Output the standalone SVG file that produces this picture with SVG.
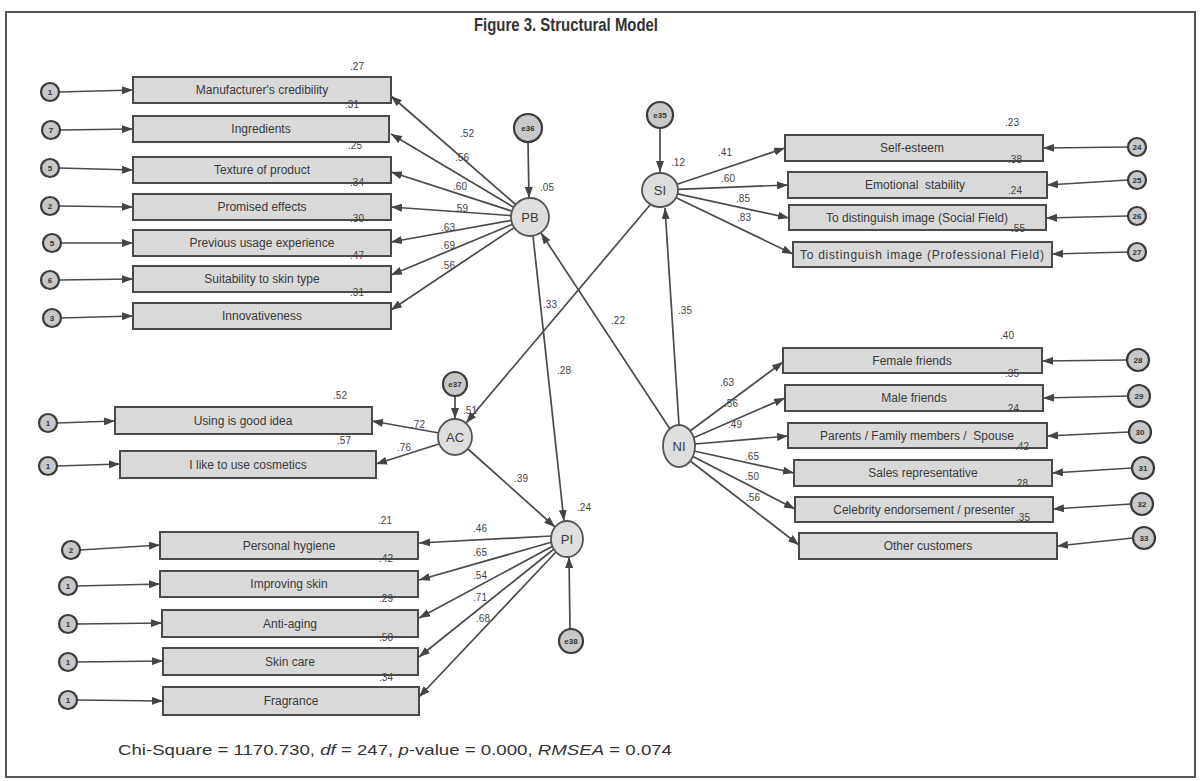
<svg xmlns="http://www.w3.org/2000/svg" width="1203" height="781" viewBox="0 0 1203 781">
<style>
.bx{fill:#d9d9d9;stroke:#4a4a4a;stroke-width:2}
.lv{fill:#dedede;stroke:#555;stroke-width:1.8}
.er{fill:#c8c8c8;stroke:#3a3a3a;stroke-width:2.2}
.bt{font-family:"Liberation Sans",Arial,sans-serif;font-size:12px;fill:#3a3a3a;text-anchor:middle}
.lt{font-family:"Liberation Sans",Arial,sans-serif;font-size:13px;fill:#3a3a3a;text-anchor:middle}
.et{font-family:"Liberation Sans",Arial,sans-serif;font-size:8px;fill:#333;text-anchor:middle;font-weight:bold}
.nm{font-family:"Liberation Sans",Arial,sans-serif;font-size:10px;fill:#444;text-anchor:middle}
.cn line{stroke:#4a4a4a;stroke-width:1.7;marker-end:url(#ah)}
</style>
<defs>
<marker id="ah" markerUnits="userSpaceOnUse" markerWidth="11" markerHeight="8" refX="11" refY="4" orient="auto">
<path d="M0,0 L11,4 L0,8 z" fill="#444"/>
</marker>
</defs>
<rect x="0" y="0" width="1203" height="781" fill="#fff"/>
<rect x="6" y="12" width="1189" height="765" fill="none" stroke="#555" stroke-width="2"/>
<text x="566" y="31" font-family="'Liberation Sans',Arial,sans-serif" font-size="19" font-weight="bold" fill="#333" text-anchor="middle" textLength="184" lengthAdjust="spacingAndGlyphs">Figure 3. Structural Model</text>
<text x="118" y="755" font-family="'Liberation Sans',Arial,sans-serif" font-size="15" fill="#333" textLength="554" lengthAdjust="spacingAndGlyphs">Chi-Square = 1170.730, <tspan font-style="italic">df</tspan> = 247, <tspan font-style="italic">p</tspan>-value = 0.000, <tspan font-style="italic">RMSEA</tspan> = 0.074</text>

<g id="connectors" class="cn">
<line x1="515.7" y1="204.5" x2="391" y2="96"/>
<line x1="513.7" y1="207.3" x2="391" y2="134"/>
<line x1="511.9" y1="211.1" x2="391" y2="172"/>
<line x1="511.1" y1="215.6" x2="391" y2="207"/>
<line x1="511.3" y1="220.4" x2="391" y2="242"/>
<line x1="512.5" y1="224.3" x2="391" y2="275"/>
<line x1="514.2" y1="227.6" x2="391" y2="310"/>
<line x1="59" y1="92" x2="133" y2="90"/>
<line x1="60" y1="130" x2="133" y2="129"/>
<line x1="59" y1="168" x2="133" y2="170"/>
<line x1="59" y1="206" x2="133" y2="207"/>
<line x1="61" y1="243" x2="133" y2="243"/>
<line x1="59" y1="280" x2="133" y2="279"/>
<line x1="61" y1="318" x2="133" y2="316"/>
<line x1="528" y1="142" x2="529" y2="198"/>
<line x1="677.1" y1="184.3" x2="785" y2="148"/>
<line x1="678" y1="189.3" x2="788" y2="185"/>
<line x1="677.6" y1="193.8" x2="789" y2="218"/>
<line x1="676.2" y1="197.8" x2="793" y2="254"/>
<line x1="1128" y1="147" x2="1043" y2="148"/>
<line x1="1128" y1="180" x2="1047" y2="185"/>
<line x1="1128" y1="216" x2="1046" y2="218"/>
<line x1="1128" y1="252" x2="1052" y2="254"/>
<line x1="660" y1="128" x2="660" y2="172"/>
<line x1="690" y1="431" x2="783" y2="362"/>
<line x1="693" y1="438" x2="785" y2="398"/>
<line x1="695" y1="444" x2="788" y2="436"/>
<line x1="694" y1="451" x2="794" y2="473"/>
<line x1="692" y1="456" x2="795" y2="509"/>
<line x1="689" y1="460" x2="799" y2="545"/>
<line x1="1127" y1="360" x2="1042" y2="361"/>
<line x1="1128" y1="396" x2="1043" y2="398"/>
<line x1="1129" y1="432" x2="1047" y2="436"/>
<line x1="1132" y1="468" x2="1052" y2="473"/>
<line x1="1131" y1="504" x2="1053" y2="509"/>
<line x1="1133" y1="538" x2="1057" y2="546"/>
<line x1="439" y1="433" x2="372" y2="421"/>
<line x1="439" y1="444" x2="376" y2="464"/>
<line x1="57" y1="423" x2="115" y2="421"/>
<line x1="57" y1="466" x2="120" y2="464"/>
<line x1="455" y1="396" x2="455" y2="419"/>
<line x1="551" y1="536" x2="419" y2="543"/>
<line x1="552" y1="542" x2="419" y2="580"/>
<line x1="553" y1="546" x2="419" y2="618"/>
<line x1="554" y1="549" x2="419" y2="657"/>
<line x1="556" y1="552" x2="419" y2="697"/>
<line x1="80" y1="550" x2="160" y2="545"/>
<line x1="77" y1="586" x2="160" y2="584"/>
<line x1="77" y1="624" x2="162" y2="623"/>
<line x1="77" y1="662" x2="163" y2="661"/>
<line x1="77" y1="700" x2="163" y2="701"/>
<line x1="570" y1="629" x2="569" y2="557"/>
<line x1="533" y1="236" x2="564" y2="521"/>
<line x1="468" y1="449" x2="555" y2="527"/>
<line x1="650" y1="205" x2="466" y2="423"/>
<line x1="670" y1="429" x2="541" y2="233"/>
<line x1="679" y1="425" x2="665" y2="208"/>
</g>

<g id="PB">
<ellipse class="lv" cx="530" cy="217" rx="19" ry="19"/>
<text class="lt" x="530" y="222">PB</text>
<text class="nm" x="547" y="191">.05</text>
</g>
<g id="e36"><circle class="er" cx="528" cy="128" r="14"/><text class="et" x="528" y="131">e36</text></g>
<g id="pb1"><rect class="bx" x="133" y="77" width="258" height="26"/><text class="bt" x="262" y="94">Manufacturer's credibility</text><text class="nm" x="357" y="70">.27</text></g>
<g id="pb2"><rect class="bx" x="133" y="116" width="256" height="26"/><text class="bt" x="261" y="133">Ingredients</text><text class="nm" x="352" y="108">.31</text></g>
<g id="pb3"><rect class="bx" x="133" y="157" width="258" height="26"/><text class="bt" x="262" y="174">Texture of product</text><text class="nm" x="355" y="149">.25</text></g>
<g id="pb4"><rect class="bx" x="133" y="194" width="258" height="26"/><text class="bt" x="262" y="211">Promised effects</text><text class="nm" x="357" y="186">.34</text></g>
<g id="pb5"><rect class="bx" x="133" y="230" width="258" height="26"/><text class="bt" x="262" y="247">Previous usage experience</text><text class="nm" x="357" y="222">.30</text></g>
<g id="pb6"><rect class="bx" x="133" y="266" width="258" height="26"/><text class="bt" x="262" y="283">Suitability to skin type</text><text class="nm" x="357" y="259">.47</text></g>
<g id="pb7"><rect class="bx" x="133" y="303" width="258" height="26"/><text class="bt" x="262" y="320">Innovativeness</text><text class="nm" x="357" y="296">.31</text></g>
<g id="pbe">
<circle class="er" cx="50" cy="92" r="9"/><text class="et" x="50" y="95">1</text>
<circle class="er" cx="51" cy="130" r="9"/><text class="et" x="51" y="133">7</text>
<circle class="er" cx="50" cy="168" r="9"/><text class="et" x="50" y="171">5</text>
<circle class="er" cx="50" cy="206" r="9"/><text class="et" x="50" y="209">2</text>
<circle class="er" cx="52" cy="243" r="9"/><text class="et" x="52" y="246">5</text>
<circle class="er" cx="50" cy="280" r="9"/><text class="et" x="50" y="283">6</text>
<circle class="er" cx="52" cy="318" r="9"/><text class="et" x="52" y="321">3</text>
</g>
<g id="pbl">
<text class="nm" x="467" y="137">.52</text>
<text class="nm" x="462" y="161">.56</text>
<text class="nm" x="460" y="190">.60</text>
<text class="nm" x="461" y="212">.59</text>
<text class="nm" x="448" y="231">.63</text>
<text class="nm" x="448" y="249">.69</text>
<text class="nm" x="448" y="269">.56</text>
</g>

<g id="SI">
<ellipse class="lv" cx="660" cy="190" rx="18" ry="17"/>
<text class="lt" x="660" y="195">SI</text>
<text class="nm" x="678" y="166">.12</text>
</g>
<g id="e35"><circle class="er" cx="660" cy="115" r="13"/><text class="et" x="660" y="118">e35</text></g>
<g id="si1"><rect class="bx" x="785" y="135" width="258" height="26"/><text class="bt" x="912" y="152">Self-esteem</text><text class="nm" x="1012" y="126">.23</text></g>
<g id="si2"><rect class="bx" x="788" y="172" width="259" height="26"/><text class="bt" x="915" y="189" xml:space="preserve">Emotional  stability</text><text class="nm" x="1015" y="163">.38</text></g>
<g id="si3"><rect class="bx" x="789" y="205" width="257" height="25"/><text class="bt" x="917" y="222">To distinguish image (Social Field)</text><text class="nm" x="1015" y="194">.24</text></g>
<g id="si4"><rect class="bx" x="793" y="242" width="259" height="25"/><text class="bt" x="922" y="259" textLength="244" lengthAdjust="spacing">To distinguish image (Professional Field)</text><text class="nm" x="1018" y="232">.55</text></g>
<g id="sie">
<circle class="er" cx="1137" cy="147" r="9"/><text class="et" x="1137" y="150">24</text>
<circle class="er" cx="1137" cy="180" r="9"/><text class="et" x="1137" y="183">25</text>
<circle class="er" cx="1137" cy="216" r="9"/><text class="et" x="1137" y="219">26</text>
<circle class="er" cx="1137" cy="252" r="9"/><text class="et" x="1137" y="255">27</text>
</g>
<g id="sil">
<text class="nm" x="725" y="156">.41</text>
<text class="nm" x="728" y="182">.60</text>
<text class="nm" x="743" y="202">.85</text>
<text class="nm" x="744" y="221">.83</text>
</g>

<g id="NI">
<ellipse class="lv" cx="679" cy="446" rx="16" ry="21"/>
<text class="lt" x="679" y="451">NI</text>
</g>
<g id="ni1"><rect class="bx" x="783" y="348" width="259" height="25"/><text class="bt" x="912" y="365">Female friends</text><text class="nm" x="1007" y="339">.40</text></g>
<g id="ni2"><rect class="bx" x="785" y="385" width="258" height="26"/><text class="bt" x="914" y="402">Male friends</text><text class="nm" x="1012" y="377">.35</text></g>
<g id="ni3"><rect class="bx" x="788" y="423" width="259" height="25"/><text class="bt" x="917" y="440" xml:space="preserve">Parents / Family members /  Spouse</text><text class="nm" x="1012" y="412">.24</text></g>
<g id="ni4"><rect class="bx" x="794" y="460" width="258" height="26"/><text class="bt" x="923" y="477">Sales representative</text><text class="nm" x="1022" y="450">.42</text></g>
<g id="ni5"><rect class="bx" x="795" y="497" width="258" height="25"/><text class="bt" x="924" y="514">Celebrity endorsement / presenter</text><text class="nm" x="1021" y="487">.28</text></g>
<g id="ni6"><rect class="bx" x="799" y="533" width="258" height="26"/><text class="bt" x="928" y="550">Other customers</text><text class="nm" x="1023" y="521">.35</text></g>
<g id="nie">
<circle class="er" cx="1138" cy="360" r="11"/><text class="et" x="1138" y="363">28</text>
<circle class="er" cx="1139" cy="396" r="11"/><text class="et" x="1139" y="399">29</text>
<circle class="er" cx="1140" cy="432" r="11"/><text class="et" x="1140" y="435">30</text>
<circle class="er" cx="1143" cy="468" r="11"/><text class="et" x="1143" y="471">31</text>
<circle class="er" cx="1142" cy="504" r="11"/><text class="et" x="1142" y="507">32</text>
<circle class="er" cx="1144" cy="538" r="11"/><text class="et" x="1144" y="541">33</text>
</g>
<g id="nil">
<text class="nm" x="727" y="386">.63</text>
<text class="nm" x="731" y="407">.56</text>
<text class="nm" x="735" y="428">.49</text>
<text class="nm" x="752" y="460">.65</text>
<text class="nm" x="752" y="480">.50</text>
<text class="nm" x="753" y="501">.56</text>
</g>

<g id="AC">
<ellipse class="lv" cx="455" cy="437" rx="17" ry="18"/>
<text class="lt" x="455" y="442">AC</text>
<text class="nm" x="470" y="414">.51</text>
</g>
<g id="e37"><circle class="er" cx="455" cy="384" r="12"/><text class="et" x="455" y="387">e37</text></g>
<g id="ac1"><rect class="bx" x="115" y="407" width="257" height="27"/><text class="bt" x="243" y="425">Using is good idea</text><text class="nm" x="340" y="399">.52</text></g>
<g id="ac2"><rect class="bx" x="120" y="451" width="256" height="27"/><text class="bt" x="248" y="469">I like to use cosmetics</text><text class="nm" x="344" y="444">.57</text></g>
<g id="ace">
<circle class="er" cx="48" cy="423" r="9"/><text class="et" x="48" y="426">1</text>
<circle class="er" cx="48" cy="466" r="9"/><text class="et" x="48" y="469">1</text>
</g>
<g id="acl">
<text class="nm" x="418" y="428">.72</text>
<text class="nm" x="404" y="451">.76</text>
</g>

<g id="PI">
<ellipse class="lv" cx="567" cy="539" rx="16" ry="18"/>
<text class="lt" x="567" y="544">PI</text>
<text class="nm" x="584" y="511">.24</text>
</g>
<g id="e38"><circle class="er" cx="571" cy="641" r="12"/><text class="et" x="571" y="644">e38</text></g>
<g id="pi1"><rect class="bx" x="160" y="532" width="258" height="27"/><text class="bt" x="289" y="550">Personal hygiene</text><text class="nm" x="385" y="524">.21</text></g>
<g id="pi2"><rect class="bx" x="160" y="571" width="258" height="26"/><text class="bt" x="289" y="588">Improving skin</text><text class="nm" x="386" y="562">.42</text></g>
<g id="pi3"><rect class="bx" x="162" y="610" width="256" height="27"/><text class="bt" x="290" y="628">Anti-aging</text><text class="nm" x="386" y="602">.29</text></g>
<g id="pi4"><rect class="bx" x="163" y="648" width="255" height="27"/><text class="bt" x="290" y="666">Skin care</text><text class="nm" x="386" y="641">.50</text></g>
<g id="pi5"><rect class="bx" x="163" y="687" width="256" height="28"/><text class="bt" x="291" y="705">Fragrance</text><text class="nm" x="386" y="681">.34</text></g>
<g id="pie">
<circle class="er" cx="71" cy="550" r="9"/><text class="et" x="71" y="553">2</text>
<circle class="er" cx="68" cy="586" r="9"/><text class="et" x="68" y="589">1</text>
<circle class="er" cx="68" cy="624" r="9"/><text class="et" x="68" y="627">1</text>
<circle class="er" cx="68" cy="662" r="9"/><text class="et" x="68" y="665">1</text>
<circle class="er" cx="68" cy="700" r="9"/><text class="et" x="68" y="703">1</text>
</g>
<g id="pil">
<text class="nm" x="480" y="532">.46</text>
<text class="nm" x="480" y="556">.65</text>
<text class="nm" x="480" y="579">.54</text>
<text class="nm" x="480" y="601">.71</text>
<text class="nm" x="483" y="622">.68</text>
</g>

<g id="pathlabels">
<text class="nm" x="550" y="308">.33</text>
<text class="nm" x="564" y="374">.28</text>
<text class="nm" x="618" y="324">.22</text>
<text class="nm" x="685" y="314">.35</text>
<text class="nm" x="521" y="482">.39</text>
</g>
</svg>
